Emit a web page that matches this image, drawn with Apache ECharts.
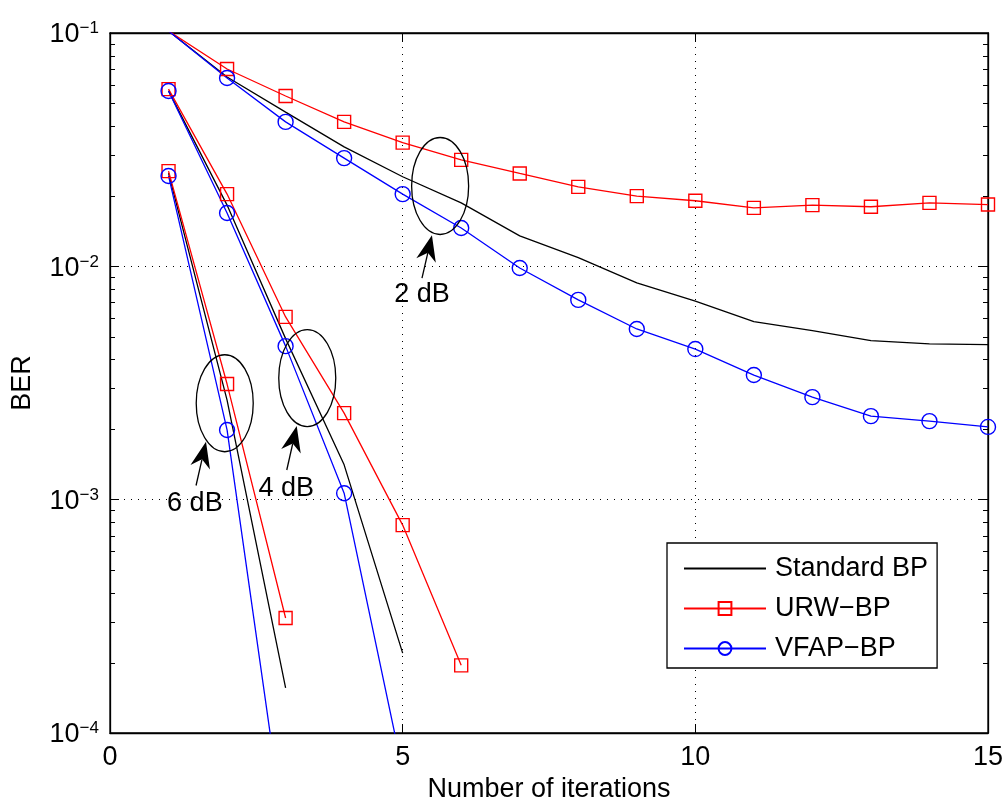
<!DOCTYPE html>
<html>
<head>
<meta charset="utf-8">
<script src="https://cdn.jsdelivr.net/npm/echarts@6/dist/echarts.min.js"></script>
<style>
  html, body { margin: 0; padding: 0; background: #fff; }
  #main { width: 1008px; height: 800px; }
</style>
</head>
<body>
<div id="main"></div>
<script>
    // BER versus iteration (x = iteration 1..n)
    var std2dB  = [0.102, 0.0648, 0.0458, 0.0325, 0.0242, 0.0187, 0.0135, 0.0109, 0.0085, 0.0071, 0.0058, 0.0053, 0.0048, 0.00465, 0.00462];
    var urw2dB  = [0.102, 0.0701, 0.0537, 0.0416, 0.0339, 0.0286, 0.0250, 0.0219, 0.0200, 0.0191, 0.0178, 0.0183, 0.0180, 0.0187, 0.0184];
    var vfap2dB = [0.102, 0.0641, 0.0416, 0.0291, 0.0204, 0.0146, 0.00984, 0.00718, 0.00539, 0.00442, 0.00342, 0.00275, 0.00228, 0.00217, 0.00205];

    var std4dB  = [0.0565, 0.0183, 0.0049, 0.00141, 0.00022];
    var urw4dB  = [0.0575, 0.0204, 0.00607, 0.00235, 0.000778, 0.000195];
    var vfap4dB = [0.0564, 0.01693, 0.00455, 0.001066, 0.0000687];

    var std6dB  = [0.0251, 0.00267, 0.000156];
    var urw6dB  = [0.0256, 0.00313, 0.000311];
    var vfap6dB = [0.0244, 0.00199, 0.000034];

    var xTicks = [0, 5, 10, 15];
    var yDecades = [-4, -3, -2, -1];
    var minorMantissa = [2, 3, 4, 5, 6, 7, 8, 9];

    // annotation: label, ellipse centre, arrow tip, arrow tail, text centre (data coords)
    var notes = [
        { text: '2 dB', centre: [5.64, 0.0221],  tip: [5.50, 0.0136],  tail: [5.33, 0.0089],  label: [5.33, 0.0076] },
        { text: '4 dB', centre: [3.37, 0.00332], tip: [3.19, 0.00207], tail: [3.02, 0.00134], label: [3.01, 0.00112] },
        { text: '6 dB', centre: [1.96, 0.00259], tip: [1.64, 0.00177], tail: [1.47, 0.00115], label: [1.45, 0.00096] }
    ];

    var FONT = '"Liberation Sans", Arial, Helvetica, sans-serif';
    var FS = 27;

    var toPairs = function (list) {
        var out = [];
        for (var i = 0; i < list.length; i++) out.push([i + 1, list[i]]);
        return out;
    };

    var m_chart = echarts.init(document.getElementById('main'), null, { renderer: 'canvas' });

    var mkSeries = function (name, list, kind) {
        var s = {
            name: name,
            type: 'line',
            data: toPairs(list),
            clip: true,
            animation: false,
            z: kind === 'std' ? 2 : 3,
            lineStyle: { width: 1.3 },
            emphasis: { disabled: true }
        };
        if (kind === 'std') {
            s.symbol = 'none';
            s.lineStyle.color = '#000000';
            s.itemStyle = { color: 'rgba(0,0,0,0)' };
        } else if (kind === 'urw') {
            s.symbol = 'rect';
            s.symbolSize = 13;
            s.lineStyle.color = '#ff0000';
            s.itemStyle = { color: 'rgba(0,0,0,0)', borderColor: '#ff0000', borderWidth: 1.4 };
        } else {
            s.symbol = 'circle';
            s.symbolSize = 15;
            s.lineStyle.color = '#0000ff';
            s.itemStyle = { color: 'rgba(0,0,0,0)', borderColor: '#0000ff', borderWidth: 1.4 };
        }
        return s;
    };

    var series = [
        mkSeries('Standard BP', std2dB, 'std'),
        mkSeries('Standard BP', std4dB, 'std'),
        mkSeries('Standard BP', std6dB, 'std'),
        mkSeries('URW\u2212BP', urw2dB, 'urw'),
        mkSeries('URW\u2212BP', urw4dB, 'urw'),
        mkSeries('URW\u2212BP', urw6dB, 'urw'),
        mkSeries('VFAP\u2212BP', vfap2dB, 'vfap'),
        mkSeries('VFAP\u2212BP', vfap4dB, 'vfap'),
        mkSeries('VFAP\u2212BP', vfap6dB, 'vfap')
    ];

    var expLabel = function (v) {
        var e = Math.round(Math.log10(v));
        if (yDecades.indexOf(e) < 0) return '';
        return '{b|10}{s|' + (e < 0 ? '\u2212' : '') + Math.abs(e) + '}';
    };

    var gridLine = { show: true, lineStyle: { color: '#000', type: [1, 6], width: 1 } };

    var option = {
        backgroundColor: '#ffffff',
        animation: false,
        grid: {
            left: 110, right: 20, top: 33, bottom: 67,
            show: true, borderColor: '#000', borderWidth: 1.3,
            containLabel: false,
            outerBoundsMode: 'none'
        },
        legend: {
            orient: 'vertical',
            left: 667, top: 543,
            padding: [12, 9, 6, 16],
            itemWidth: 82, itemHeight: 16, itemGap: 13,
            borderColor: '#000', borderWidth: 1.3,
            backgroundColor: '#fff',
            selectedMode: false,
            textStyle: { fontFamily: FONT, fontSize: FS, color: '#000', padding: [0, 0, 0, 4] },
            data: ['Standard BP', 'URW\u2212BP', 'VFAP\u2212BP']
        },
        xAxis: [{
            type: 'value', min: xTicks[0], max: xTicks[xTicks.length - 1], interval: 5,
            name: 'Number of iterations', nameLocation: 'middle', nameGap: 38,
            nameTextStyle: { fontFamily: FONT, fontSize: FS, color: '#000' },
            axisLine: { show: true, onZero: false, lineStyle: { color: '#000', width: 1.3 } },
            axisTick: { show: true, inside: true, length: 9, lineStyle: { color: '#000' } },
            axisLabel: { margin: 11, fontFamily: FONT, fontSize: FS, color: '#000' },
            splitLine: gridLine
        }, {
            type: 'value', position: 'top', min: xTicks[0], max: xTicks[xTicks.length - 1], interval: 5,
            axisLine: { show: true, onZero: false, lineStyle: { color: '#000', width: 1.3 } },
            axisTick: { show: true, inside: true, length: 9, lineStyle: { color: '#000' } },
            axisLabel: { show: false },
            splitLine: { show: false }
        }],
        yAxis: [{
            type: 'log', logBase: 10, min: 1e-4, max: 1e-1,
            name: 'BER', nameLocation: 'middle', nameGap: 74, nameRotate: 90,
            nameTextStyle: { fontFamily: FONT, fontSize: FS, color: '#000' },
            axisLine: { show: true, onZero: false, lineStyle: { color: '#000', width: 1.3 } },
            axisTick: { show: true, inside: true, length: 9, lineStyle: { color: '#000' } },
            axisLabel: {
                margin: 11, color: '#000', fontFamily: FONT,
                formatter: expLabel,
                rich: {
                    b: { fontFamily: FONT, fontSize: FS, lineHeight: 26, padding: [4, 0, 0, 0], color: '#000' },
                    s: { fontFamily: FONT, fontSize: 17, lineHeight: 8, verticalAlign: 'top', color: '#000' }
                }
            },
            splitLine: gridLine
        }, {
            type: 'log', logBase: 10, min: 1e-4, max: 1e-1, position: 'right',
            axisLine: { show: true, onZero: false, lineStyle: { color: '#000', width: 1.3 } },
            axisTick: { show: true, inside: true, length: 9, lineStyle: { color: '#000' } },
            axisLabel: { show: false },
            splitLine: { show: false }
        }],
        series: series
    };

    m_chart.setOption(option);

    // minor log ticks, ellipses, arrows and labels placed through the axes
    var toPx = function (pt) {
        return m_chart.convertToPixel({ gridIndex: 0 }, pt);
    };

    var graphics = [];
    var xl = toPx([xTicks[0], 1e-2])[0];
    var xr = toPx([xTicks[xTicks.length - 1], 1e-2])[0];
    for (var d = 0; d < yDecades.length - 1; d++) {
        for (var k = 0; k < minorMantissa.length; k++) {
            var v = minorMantissa[k] * Math.pow(10, yDecades[d]);
            var py = Math.round(toPx([0, v])[1]) + 0.5;
            graphics.push({ type: 'line', shape: { x1: xl, y1: py, x2: xl + 5, y2: py }, style: { stroke: '#000', lineWidth: 1 }, silent: true });
            graphics.push({ type: 'line', shape: { x1: xr, y1: py, x2: xr - 5, y2: py }, style: { stroke: '#000', lineWidth: 1 }, silent: true });
        }
    }

    for (var n = 0; n < notes.length; n++) {
        var c = toPx(notes[n].centre);
        var tip = toPx(notes[n].tip);
        var tail = toPx(notes[n].tail);
        var lab = toPx(notes[n].label);
        graphics.push({ type: 'ellipse', shape: { cx: c[0], cy: c[1], rx: 28.5, ry: 48.5 }, style: { fill: null, stroke: '#000', lineWidth: 1.3 }, silent: true, z: 10 });

        var dx = tip[0] - tail[0], dy = tip[1] - tail[1];
        var len = Math.sqrt(dx * dx + dy * dy);
        var ux = dx / len, uy = dy / len;
        var nx = -uy, ny = ux;
        var headLen = 26, headW = 10, notch = 8;
        var bx = tip[0] - ux * headLen, by = tip[1] - uy * headLen;
        var mx = tip[0] - ux * (headLen - notch), my = tip[1] - uy * (headLen - notch);
        graphics.push({ type: 'line', shape: { x1: tail[0], y1: tail[1], x2: mx, y2: my }, style: { stroke: '#000', lineWidth: 1.3 }, silent: true, z: 10 });
        graphics.push({
            type: 'polygon',
            shape: { points: [[tip[0], tip[1]], [bx + nx * headW, by + ny * headW], [mx, my], [bx - nx * headW, by - ny * headW]] },
            style: { fill: '#000' }, silent: true, z: 10
        });
        graphics.push({
            type: 'text', x: lab[0], y: lab[1], z: 10, silent: true,
            style: { text: notes[n].text, fontFamily: FONT, fontSize: FS, fill: '#000', align: 'center', verticalAlign: 'middle' }
        });
    }

    m_chart.setOption({ graphic: { elements: graphics } });
</script>
</body>
</html>
